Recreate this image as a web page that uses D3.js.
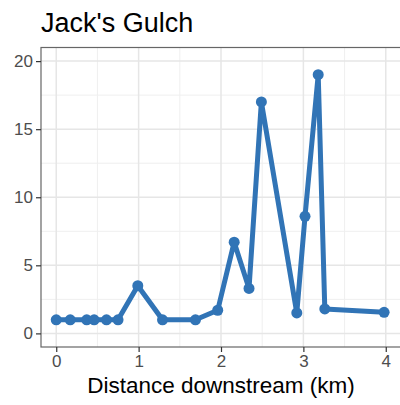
<!DOCTYPE html>
<html>
<head>
<meta charset="utf-8">
<script src="https://cdn.jsdelivr.net/npm/d3@7"></script>
<style>
  html, body { margin: 0; padding: 0; background: #fff; }
  svg { display: block; font-family: "Liberation Sans", Arial, sans-serif; }
</style>
</head>
<body>
<svg id="chart" width="400" height="405"></svg>
<script>
// Sampling sites along Jack's Gulch
const distanceKm = [0, 0.17, 0.37, 0.46, 0.61, 0.75, 0.99, 1.29, 1.69, 1.96, 2.16, 2.34, 2.49, 2.92, 3.02, 3.18, 3.26, 3.98];
const values     = [1, 1, 1, 1, 1, 1, 3.5, 1, 1, 1.7, 6.7, 3.3, 17, 1.5, 8.6, 19, 1.8, 1.55];
const xTicks = [0, 1, 2, 3, 4];
const yTicks = [0, 5, 10, 15, 20];
const xMinor = [0.5, 1.5, 2.5, 3.5];
const yMinor = [2.5, 7.5, 12.5, 17.5];

const svg = d3.select("#chart");
const panel = { left: 41, right: 401, top: 47.5, bottom: 347 };

const x = d3.scaleLinear().domain([-0.185, 4.185]).range([panel.left, panel.right]);
const y = d3.scaleLinear().domain([-1, 21]).range([panel.bottom, panel.top]);

// Title
svg.append("text")
  .attr("x", 41).attr("y", 32)
  .attr("font-size", 27).attr("fill", "#000")
  .text("Jack's Gulch");

// Grid
const grid = svg.append("g");
grid.selectAll(".xminor").data(xMinor).join("line")
  .attr("x1", d => x(d)).attr("x2", d => x(d))
  .attr("y1", panel.top).attr("y2", panel.bottom)
  .attr("stroke", "#efefef").attr("stroke-width", 1);
grid.selectAll(".yminor").data(yMinor).join("line")
  .attr("y1", d => y(d)).attr("y2", d => y(d))
  .attr("x1", panel.left).attr("x2", panel.right)
  .attr("stroke", "#efefef").attr("stroke-width", 1);
grid.selectAll(".xmajor").data(xTicks).join("line")
  .attr("x1", d => x(d)).attr("x2", d => x(d))
  .attr("y1", panel.top).attr("y2", panel.bottom)
  .attr("stroke", "#e6e6e6").attr("stroke-width", 1.5);
grid.selectAll(".ymajor").data(yTicks).join("line")
  .attr("y1", d => y(d)).attr("y2", d => y(d))
  .attr("x1", panel.left).attr("x2", panel.right)
  .attr("stroke", "#e6e6e6").attr("stroke-width", 1.5);

// Series
const line = d3.line().x((d, i) => x(distanceKm[i])).y(d => y(d));
svg.append("path")
  .datum(values)
  .attr("d", line)
  .attr("fill", "none")
  .attr("stroke", "#3174b6")
  .attr("stroke-width", 5)
  .attr("stroke-linejoin", "round");
svg.selectAll(".pt").data(values).join("circle")
  .attr("cx", (d, i) => x(distanceKm[i]))
  .attr("cy", d => y(d))
  .attr("r", 5.5)
  .attr("fill", "#3174b6");

// Panel border
svg.append("rect")
  .attr("x", panel.left).attr("y", panel.top)
  .attr("width", panel.right - panel.left).attr("height", panel.bottom - panel.top)
  .attr("fill", "none").attr("stroke", "#666").attr("stroke-width", 1.2);

// Axes
const xAxis = svg.append("g")
  .attr("transform", `translate(0,${panel.bottom})`)
  .call(d3.axisBottom(x).tickValues(xTicks).tickSize(5).tickPadding(3).tickFormat(d3.format("d")));
const yAxis = svg.append("g")
  .attr("transform", `translate(${panel.left},0)`)
  .call(d3.axisLeft(y).tickValues(yTicks).tickSize(5).tickPadding(3).tickFormat(d3.format("d")));
[xAxis, yAxis].forEach(a => {
  a.select(".domain").remove();
  a.selectAll(".tick line").attr("stroke", "#333").attr("stroke-width", 1.2);
  a.selectAll(".tick text").attr("fill", "#4d4d4d").attr("font-size", 17)
    .attr("font-family", "'Liberation Sans', Arial, sans-serif");
});

// Axis title
svg.append("text")
  .attr("x", (x(0) + x(4)) / 2).attr("y", 393)
  .attr("text-anchor", "middle")
  .attr("font-size", 22.5).attr("fill", "#000")
  .text("Distance downstream (km)");
</script>
</body>
</html>
